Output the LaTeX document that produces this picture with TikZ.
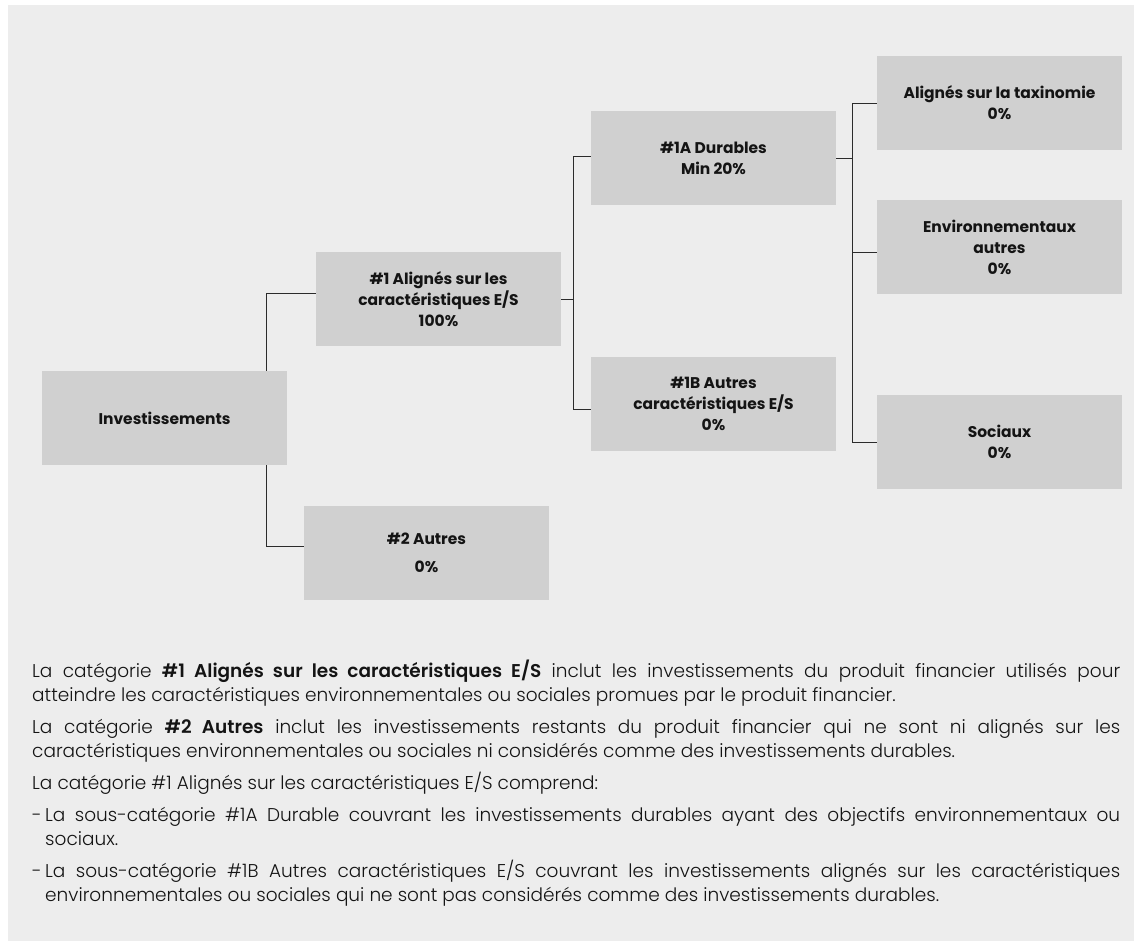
\documentclass[tikz,border=0pt]{standalone}
\usepackage{fontspec}
\usepackage{xcolor}
\usepackage{tikz}
\setmainfont{Poppins}[UprightFont=* Light, BoldFont=* SemiBold]
\newfontfamily\boitefont{Poppins}[UprightFont=* Bold]
\definecolor{fondpanneau}{HTML}{EDEDED}
\definecolor{fondboite}{HTML}{D0D0D0}
\definecolor{trait}{HTML}{2B2B2B}
\definecolor{texte}{HTML}{141414}

\begin{document}
\begin{tikzpicture}[x=1pt, y=-1pt,
  boite/.style={fill=fondboite, minimum width=245pt, minimum height=94pt, inner sep=0pt,
    align=center, text=texte, font=\fontsize{15.5}{21}\boitefont},
  lien/.style={draw=trait, line width=0.8pt}]
\useasboundingbox (0,0) rectangle (1134,941);
\fill [white] (0,0) rectangle (1134,941);
\fill [fondpanneau] (8,5) rectangle (1134,941);

\node [boite] (inv) at (164.5,418) {Investissements};
\node [boite] (un) at (438.5,299) {\#1 Alignés sur les\\caractéristiques E/S\\100\%};
\node [boite] (deux) at (426.5,553) {\#2 Autres\\[7pt]0\%};
\node [boite] (unA) at (713.5,158) {\#1A Durables\\Min 20\%};
\node [boite] (unB) at (713.5,404) {\#1B Autres\\caractéristiques E/S\\0\%};
\node [boite] (taxo) at (999.5,103) {Alignés sur la taxinomie\\0\%};
\node [boite] (envi) at (999.5,247) {Environnementaux\\autres\\0\%};
\node [boite] (soci) at (999.5,442) {Sociaux\\0\%};

\draw [lien] ([xshift=-21pt]inv.north east) |- ([yshift=6pt]un.west);
\draw [lien] ([xshift=-21pt]inv.south east) |- ([yshift=7pt]deux.west);

\draw [lien] (un.east) -- ++(12,0) coordinate (j1);
\draw [lien] ([yshift=2pt]unA.west) -| (j1) |- ([yshift=-5pt]unB.west);

\draw [lien] (unA.east) -- ++(16,0) coordinate (j2);
\draw [lien] (taxo.west) -| (j2) |- (soci.west);
\draw [lien] ([yshift=-5pt]envi.west) -| (j2);

\node [anchor=north west, inner sep=0pt, text width=1088pt, align=justify, text=texte,
  font=\fontsize{18.5}{24}\selectfont] (notes) at (32,660) {%
\parskip=8pt
La catégorie \textbf{\#1 Alignés sur les caractéristiques E/S} inclut les investissements du produit financier utilisés pour\linebreak atteindre les caractéristiques environnementales ou sociales promues par le produit financier.\par
La catégorie \textbf{\#2 Autres} inclut les investissements restants du produit financier qui ne sont ni alignés sur les\linebreak caractéristiques environnementales ou sociales ni considérés comme des investissements durables.\par
La catégorie \#1 Alignés sur les caractéristiques E/S comprend:\par
\hangindent=13pt\hangafter=1\makebox[13pt][l]{-}La sous-catégorie \#1A Durable couvrant les investissements durables ayant des objectifs environnementaux ou\linebreak sociaux.\par
\hangindent=13pt\hangafter=1\makebox[13pt][l]{-}La sous-catégorie \#1B Autres caractéristiques E/S couvrant les investissements alignés sur les caractéristiques\linebreak environnementales ou sociales qui ne sont pas considérés comme des investissements durables.\par};
\end{tikzpicture}
\end{document}
